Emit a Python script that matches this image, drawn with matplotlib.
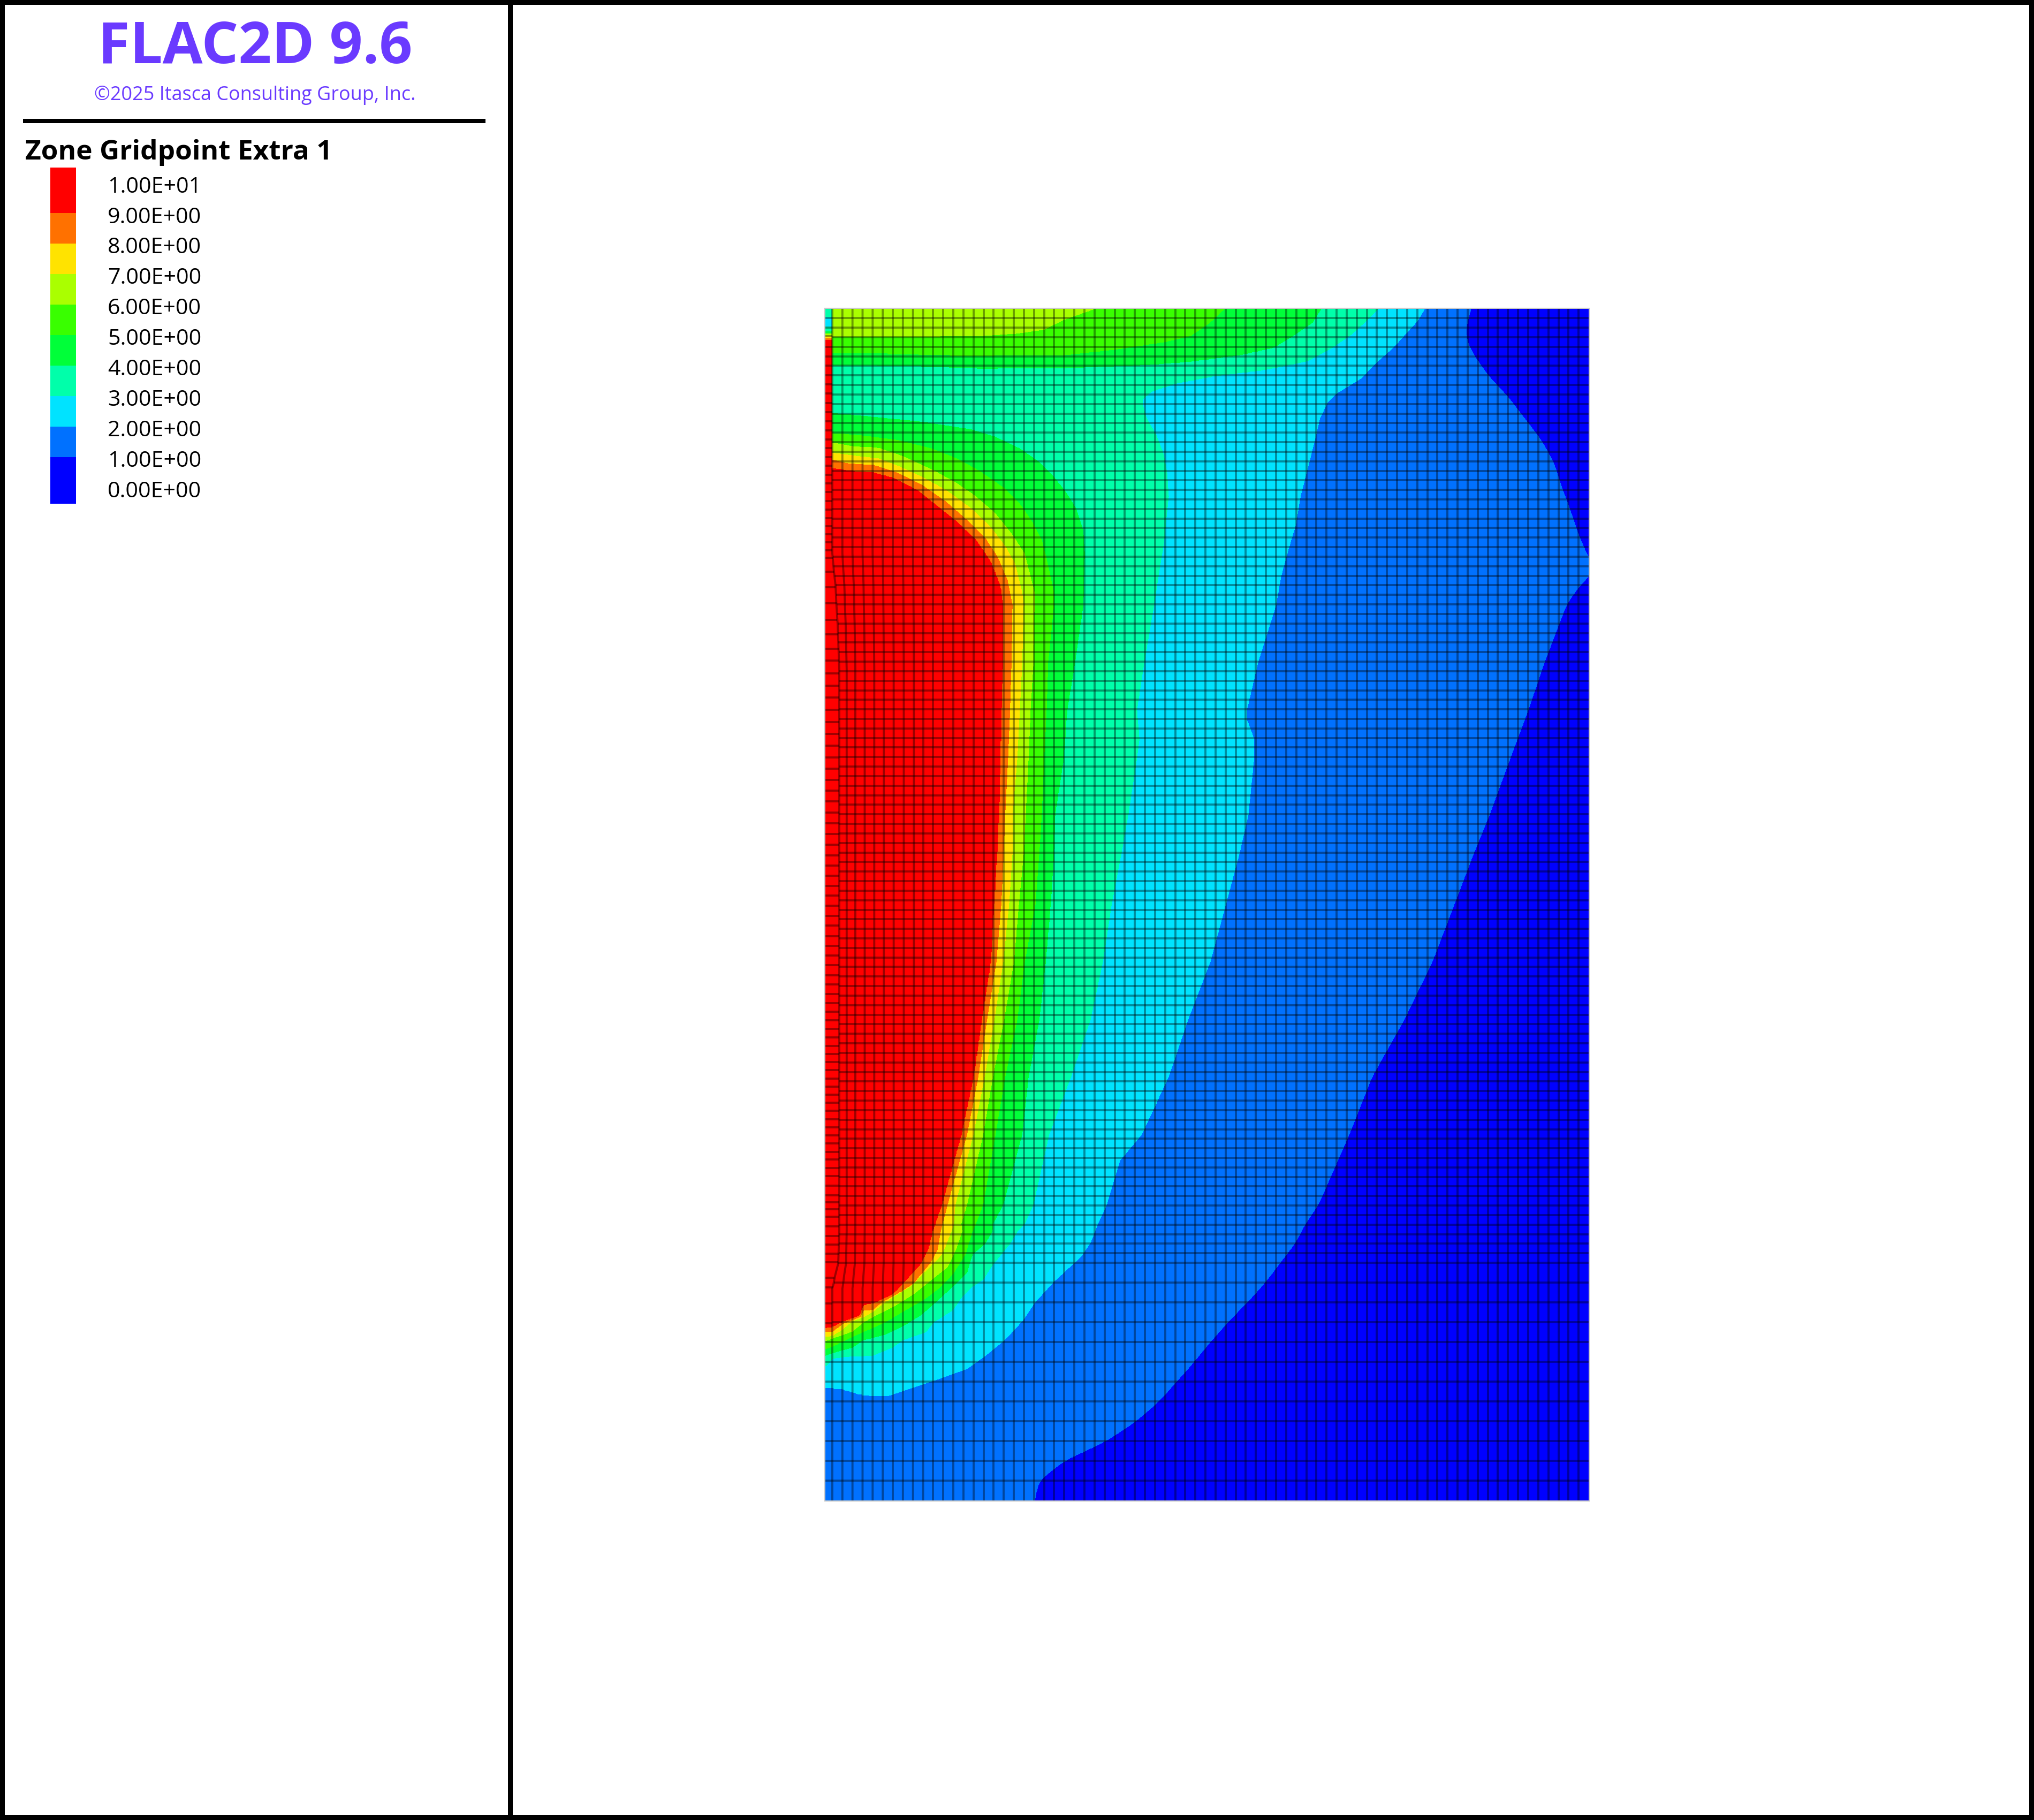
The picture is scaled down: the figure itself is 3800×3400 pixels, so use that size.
import numpy as np
import matplotlib
matplotlib.use("Agg")
import matplotlib.pyplot as plt
from matplotlib.collections import LineCollection
from matplotlib.colors import ListedColormap, BoundaryNorm
from matplotlib.patches import Rectangle

# ---- legend ----
LEVEL_LABELS = ["1.00E+01", "9.00E+00", "8.00E+00", "7.00E+00", "6.00E+00", "5.00E+00",
                "4.00E+00", "3.00E+00", "2.00E+00", "1.00E+00", "0.00E+00"]
LEVEL_VALUES = [10, 9, 8, 7, 6, 5, 4, 3, 2, 1, 0]
BAND_COLORS = ["#0000FF", "#0071FF", "#00E3FF", "#00FFAA", "#00FF39",
               "#39FF00", "#AAFF00", "#FFE300", "#FF7100", "#FF0000"]
BAND_EDGES = [-1, 1, 2, 3, 4, 5, 6, 7, 8, 9, 11]
LEGEND_EDGES = [-0.48, 1.05, 2.05, 3.05, 4.05, 5.05, 6.05, 7.05, 8.05, 9.05, 10.55]

# ---- contour readings: depth below model top, and distance across the model,
#      at which the field equals each level ----
D1 = [0, 30, 58, 87, 126, 165, 212, 248, 290, 333, 369, 423, 465, 483, 501, 526, 554, 661, 750, 840, 947, 1018,
      1114, 1221, 1328, 1435, 1543, 1674, 1710, 1745, 1781, 1817, 1853, 1888, 1931, 1970, 2006, 2042, 2081, 2117,
      2153, 2190, 2227]
X1 = [1325, 1315, 1315, 1330, 1360, 1400, 1440, 1470, 1495, 1510, 1525, 1545, 1565, 1580, 1565, 1540, 1520, 1475,
      1442, 1405, 1362, 1330, 1290, 1245, 1188, 1122, 1075, 1012, 985, 965, 935, 905, 870, 832, 790, 755, 720, 685,
      635, 575, 490, 440, 430]

D2 = [0, 23, 48, 73, 101, 130, 158, 176, 205, 244, 280, 315, 351, 405, 451, 501, 554, 661, 750, 768, 804, 840, 947,
      1018, 1114, 1221, 1328, 1435, 1543, 1592, 1674, 1710, 1745, 1771, 1817, 1857, 1891, 1927, 1957, 1981, 2002,
      2022, 2031, 2032]
X2 = [1230, 1215, 1190, 1165, 1130, 1100, 1050, 1030, 1015, 1005, 995, 985, 975, 965, 950, 935, 925, 888, 865, 865,
      880, 880, 868, 850, 822, 790, 745, 705, 650, 605, 578, 560, 545, 526, 471, 431, 406, 369, 329, 292, 227, 161,
      132, 102]

D3 = [0, 23, 48, 73, 98, 115, 126, 140, 155, 169, 180, 205, 237, 273, 308, 351, 394, 440, 494, 554, 661, 750, 804,
      840, 947, 1018, 1114, 1221, 1328, 1435, 1543, 1674, 1710, 1724, 1747, 1787, 1814, 1827, 1847, 1871, 1894, 1912,
      1927, 1941, 1956, 1957, 1961, 1976]
X3 = [1135, 1110, 1080, 1040, 990, 900, 800, 720, 670, 652, 652, 660, 680, 695, 702, 705, 700, 695, 685, 675, 655,
      640, 645, 640, 622, 608, 588, 570, 545, 505, 460, 428, 410, 395, 380, 344, 325, 303, 281, 263, 223, 208, 161,
      139, 99, 58, 18, 2]

D4_TOP = [0, 26, 51, 73, 87, 99, 106, 112]
X4_TOP = [1018, 1000, 960, 920, 850, 750, 650, 450]
D4 = [196, 203, 212, 226, 240, 262, 287, 315, 344, 373, 415, 458, 554, 661, 750, 840, 947, 1018, 1114, 1221, 1328,
      1435, 1543, 1674, 1710, 1724, 1747, 1767, 1801, 1827, 1857, 1881, 1901, 1917, 1927, 1941, 1951, 1956]
X4 = [18, 100, 200, 300, 350, 400, 440, 470, 495, 515, 530, 533, 530, 513, 497, 490, 472, 470, 463, 453, 440, 418,
      405, 366, 345, 344, 329, 303, 292, 263, 227, 197, 161, 124, 80, 57, 18, 2]

D5_TOP = [0, 26, 51, 62, 76, 88]
X5_TOP = [820, 790, 750, 700, 600, 480]
D5 = [233, 238, 246, 262, 280, 305, 337, 365, 398, 433, 469, 530, 554, 661, 750, 840, 947, 1018, 1114, 1221, 1328,
      1435, 1543, 1674, 1710, 1724, 1767, 1804, 1831, 1851, 1874, 1894, 1904, 1921, 1939, 1944]
X5 = [18, 80, 150, 220, 270, 320, 370, 400, 425, 445, 455, 470, 470, 458, 455, 450, 445, 440, 432, 410, 395, 370,
      350, 325, 310, 303, 289, 263, 234, 205, 161, 124, 99, 57, 18, 2]

D6_TOP = [0, 21, 39, 46, 51]
X6_TOP = [555, 490, 450, 400, 320]
D6 = [251, 258, 260, 276, 301, 326, 351, 383, 423, 458, 530, 554, 661, 750, 840, 947, 1018, 1114, 1221, 1328, 1435,
      1543, 1674, 1710, 1724, 1757, 1791, 1817, 1841, 1864, 1884, 1894, 1911, 1924, 1929]
X6 = [18, 60, 110, 160, 220, 270, 310, 350, 385, 410, 430, 430, 428, 422, 418, 412, 408, 398, 388, 368, 345, 325,
      292, 280, 282, 270, 252, 216, 183, 143, 99, 80, 57, 18, 2]

D7 = [270, 276, 280, 294, 315, 340, 373, 408, 444, 476, 530, 554, 661, 750, 840, 947, 1018, 1114, 1221, 1328, 1435,
      1543, 1674, 1710, 1724, 1767, 1787, 1807, 1827, 1847, 1861, 1874, 1884, 1892, 1907, 1919, 1921]
X7 = [18, 70, 110, 150, 200, 250, 300, 340, 370, 390, 405, 408, 405, 400, 395, 385, 385, 378, 366, 348, 328, 305,
      268, 265, 260, 241, 219, 197, 175, 139, 117, 100, 80, 57, 37, 18, 2]

D8 = [283, 290, 292, 307, 330, 362, 394, 430, 465, 508, 554, 661, 750, 840, 947, 1018, 1114, 1221, 1328, 1435, 1543,
      1674, 1724, 1757, 1781, 1821, 1837, 1857, 1871, 1872, 1884, 1897, 1911, 1912]
X8 = [18, 50, 100, 150, 200, 250, 290, 330, 355, 375, 385, 383, 380, 376, 370, 367, 362, 352, 333, 315, 292, 252,
      238, 232, 219, 183, 157, 117, 99, 80, 73, 37, 18, 2]

D9 = [299, 304, 307, 317, 340, 369, 398, 433, 473, 519, 554, 661, 750, 840, 947, 1018, 1114, 1221, 1328, 1435, 1543,
      1674, 1724, 1757, 1784, 1821, 1841, 1857, 1861, 1881, 1891, 1901, 1904]
X9 = [18, 50, 100, 140, 190, 230, 270, 310, 340, 360, 365, 365, 362, 360, 357, 353, 347, 340, 322, 305, 280, 240,
      221, 212, 197, 161, 139, 102, 80, 71, 40, 18, 2]

# places where a contour turns back on itself near the left edge: level, depths, reach
NOTCH_LEVELS = [2, 4, 5]
NOTCH_D = [[2016, 2019, 2029, 2032], [105, 108, 112], [83, 84, 88]]
NOTCH_X = [[2, 37, 73, 102], [18, 200, 350], [18, 130, 300]]

# the narrow column of zones along the left edge
STRIP_EDGES = [0, 17, 34, 43, 47, 52, 56, 59, 1904]
STRIP_VALUES = [3.5, 2.5, 3.5, 4.5, 6.5, 7.5, 8.5, 10]
STRIP_ROWS = [18, 36, 52, 72, 90, 107, 125, 142, 159, 177, 194, 211, 228, 245, 261, 278, 294, 311, 327, 343, 360,
              376, 392, 407, 422, 437, 452, 466, 492, 521, 551, 582, 609, 636, 658, 682, 705, 727, 750, 773, 795,
              817, 839, 860, 881, 901, 921, 942, 962, 982, 1002, 1022, 1041, 1060, 1079, 1097, 1116, 1135, 1153,
              1173, 1191, 1209, 1227, 1246, 1263, 1281, 1298, 1314, 1330, 1346, 1362, 1378, 1393, 1408, 1423, 1439,
              1454, 1469, 1484, 1499, 1515, 1530, 1545, 1560, 1576, 1590, 1606, 1621, 1639, 1657, 1670, 1683, 1697,
              1715, 1733, 1749, 1766, 1782, 1811, 1829, 1859, 1896]

# mesh: number of zones and zone sizes
MODEL_X = (2.2, 1565.5)
MODEL_Y = (0.0, 2227.0)
N_COLS = 74
COL_W = 20.66
COL_FIRST = 16.4
ROW_COUNTS = [100, 12]
ROW_SIZES = [17.83, 37.0]

# sideways displacement of the first mesh columns, and how it varies with depth
COL_SHIFT = [14.3, 8.8, 5.8, 4.4, 3.3, 2.2, 1.8, 1.8, 1.8, 0.5]
SHIFT_D = [0, 457, 491, 517, 551, 591, 624, 674, 1724, 1784, 1807, 1824, 1831, 2227]
SHIFT_F = [0, 0, 0.23, 0.46, 0.58, 0.77, 0.86, 1, 1, 0.85, 0.4, 0.15, 0, 0]

BRANCHES = {
    1: [(D1, X1)], 2: [(D2, X2)], 3: [(D3, X3)], 4: [(D4_TOP, X4_TOP), (D4, X4)],
    5: [(D5_TOP, X5_TOP), (D5, X5)], 6: [(D6_TOP, X6_TOP), (D6, X6)],
    7: [(D7, X7)], 8: [(D8, X8)], 9: [(D9, X9)],
}

W, H = 3800, 3400
plt.rcParams["font.family"] = ["Open Sans", "DejaVu Sans"]
fig = plt.figure(figsize=(W / 100, H / 100), dpi=100, facecolor="white")


def box(x0, y0, x1, y1):
    return [x0 / W, 1 - y1 / H, (x1 - x0) / W, (y1 - y0) / H]


# frame
for x0, y0, x1, y1 in [(0, 0, W, 9), (0, H - 9, W, H), (0, 0, 9, H), (W - 9, 0, W, H),
                       (949, 0, 958, H), (43, 222, 907, 230)]:
    fig.add_artist(Rectangle((x0 / W, 1 - y1 / H), (x1 - x0) / W, (y1 - y0) / H, transform=fig.transFigure,
                             facecolor="black", edgecolor="none"))


def label(x, y, s, **kw):
    fig.text(x / W, 1 - y / H, s, va="baseline", **kw)


PURPLE = "#6A3AFF"
label(477, 118, "FLAC2D 9.6", ha="center", fontsize=78, fontweight="bold", color=PURPLE)
label(476, 187, "\u00a92025 Itasca Consulting Group, Inc.", ha="center", fontsize=25.9, color=PURPLE)
label(47, 298, "Zone Gridpoint Extra 1", ha="left", fontsize=37, fontweight="bold", color="black")

# legend scale
lax = fig.add_axes(box(94, 344.4, 142, 913.3))
lax.set_xlim(0, 1)
lax.set_ylim(0, 10)
lax.axis("off")
for i, c in enumerate(BAND_COLORS):
    lax.bar(0.5, LEGEND_EDGES[i + 1] - LEGEND_EDGES[i], width=1, bottom=LEGEND_EDGES[i], color=c, clip_on=False)
for v, s in zip(LEVEL_VALUES, LEVEL_LABELS):
    lax.annotate(s, (1, v), xycoords=lax.get_yaxis_transform(), xytext=(59, 0), textcoords="offset pixels",
                 ha="left", va="center_baseline", fontsize=29.6, color="black", annotation_clip=False)

# model
ax = fig.add_axes(box(1542, 576.5, 2967.7, 2803))
ax.set_xlim(*MODEL_X)
ax.set_ylim(MODEL_Y[1], MODEL_Y[0])
ax.axis("off")

cmap = ListedColormap(BAND_COLORS)
norm = BoundaryNorm(BAND_EDGES, cmap.N)

xg = np.arange(MODEL_X[0], MODEL_X[1] + 1.5, 1.5)
dg = np.arange(MODEL_Y[0], MODEL_Y[1] + 1.5, 1.5)


def crossing(level):
    if level == 1:  # this contour runs the whole depth and is smooth: soften the corners of the readings
        out = np.interp(dg, D1, X1)
        pad = 8
        kernel = np.ones(2 * pad + 1) / (2 * pad + 1)
        return np.convolve(np.pad(out, pad, mode="edge"), kernel, mode="valid")
    out = np.full(dg.shape, -20.0 - 10.0 * level)
    for d, x in BRANCHES[level]:
        m = (dg >= d[0]) & (dg <= d[-1])
        out[m] = np.interp(dg[m], d, x)
    return out


levels = np.arange(9, 0, -1)
cross = np.array([crossing(k) for k in levels]).T
cross = np.maximum.accumulate(cross, axis=1) + 1e-3 * np.arange(len(levels))
V = np.empty((dg.size, xg.size))
for i in range(dg.size):
    V[i] = np.interp(xg, np.r_[cross[i], 2000.0], np.r_[levels, 0.0], left=10.0)
for k, nd, nx in zip(NOTCH_LEVELS, NOTCH_D, NOTCH_X):
    m = (dg >= nd[0]) & (dg <= nd[-1])
    reach = np.interp(dg[m], nd, nx)
    sub = V[m]
    for j in range(sub.shape[0]):
        sub[j, xg < reach[j]] = np.minimum(sub[j, xg < reach[j]], k - 0.5)
    V[m] = sub

ax.add_patch(Rectangle((MODEL_X[0], MODEL_Y[0]), MODEL_X[1] - MODEL_X[0], MODEL_Y[1] - MODEL_Y[0], fill=False,
                       edgecolor="#c8c8c8", linewidth=3, clip_on=False, zorder=0))
ax.contourf(xg, dg, V, levels=BAND_EDGES, colors=BAND_COLORS, zorder=1, antialiased=False)
ax.pcolormesh([MODEL_X[0], COL_FIRST], STRIP_EDGES, np.array(STRIP_VALUES)[:, None], cmap=cmap, norm=norm, zorder=2)

# mesh lines
col_x = COL_FIRST + COL_W * np.arange(N_COLS + 1)
col_shift = np.zeros(col_x.size)
col_shift[:len(COL_SHIFT)] = COL_SHIFT
row_y = np.r_[0.0, np.cumsum(np.repeat(ROW_SIZES, ROW_COUNTS))]
strip_end = STRIP_EDGES[-1]


def first_col(y):
    return col_x[0] + col_shift[0] * np.interp(y, SHIFT_D, SHIFT_F)


v_seg = [np.column_stack([x + s * np.array(SHIFT_F), SHIFT_D]) for x, s in zip(col_x, col_shift)]
h_seg = [[(first_col(y) if y < strip_end else MODEL_X[0], y), (MODEL_X[1], y)] for y in row_y[1:-1]]
s_seg = [[(MODEL_X[0], y), (first_col(y), y)] for y in STRIP_ROWS]
lw = 3.9 * 72 / 100
for seg in (v_seg, h_seg, s_seg):
    ax.add_collection(LineCollection(seg, colors="black", alpha=0.38, linewidths=lw, zorder=3, capstyle="butt"))

fig.savefig("out.png", dpi=100, facecolor="white")
